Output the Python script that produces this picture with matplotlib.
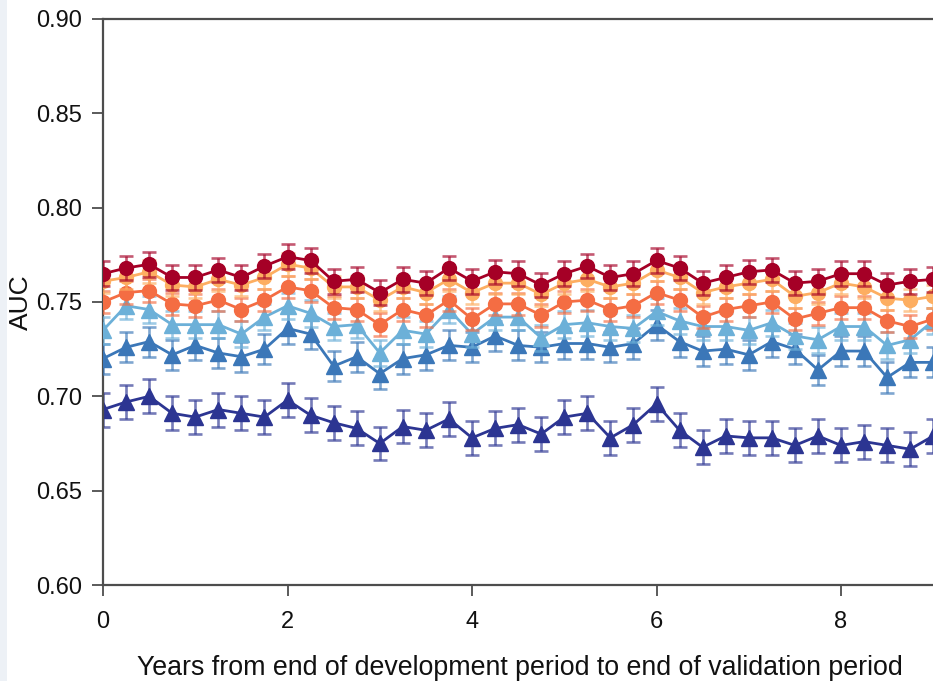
import matplotlib
matplotlib.use("Agg")
import matplotlib.pyplot as plt
from matplotlib.patches import Rectangle

plt.rcParams['font.family'] = ['Liberation Sans', 'DejaVu Sans']

years = [0, 0.25, 0.5, 0.75, 1.0, 1.25, 1.5, 1.75, 2.0, 2.25, 2.5, 2.75, 3.0,
         3.25, 3.5, 3.75, 4.0, 4.25, 4.5, 4.75, 5.0, 5.25, 5.5, 5.75, 6.0,
         6.25, 6.5, 6.75, 7.0, 7.25, 7.5, 7.75, 8.0, 8.25, 8.5, 8.75, 9.0]

auc_navy = [0.693, 0.697, 0.700, 0.691, 0.689, 0.693, 0.691, 0.689, 0.698, 0.690,
            0.686, 0.683, 0.675, 0.684, 0.682, 0.688, 0.678, 0.683, 0.685, 0.680,
            0.689, 0.691, 0.678, 0.685, 0.696, 0.682, 0.673, 0.679, 0.678, 0.678,
            0.674, 0.679, 0.674, 0.676, 0.674, 0.672, 0.679]
auc_blue = [0.720, 0.726, 0.729, 0.722, 0.727, 0.723, 0.721, 0.725, 0.736, 0.733,
            0.716, 0.721, 0.712, 0.720, 0.722, 0.727, 0.726, 0.732, 0.727, 0.726,
            0.728, 0.728, 0.726, 0.728, 0.738, 0.729, 0.724, 0.725, 0.722, 0.729,
            0.725, 0.714, 0.724, 0.724, 0.710, 0.718, 0.718]
auc_lightblue = [0.735, 0.748, 0.746, 0.738, 0.738, 0.738, 0.733, 0.742, 0.748, 0.744,
                 0.737, 0.738, 0.723, 0.735, 0.733, 0.746, 0.733, 0.742, 0.742, 0.731,
                 0.738, 0.739, 0.737, 0.736, 0.745, 0.740, 0.737, 0.737, 0.735, 0.739,
                 0.732, 0.730, 0.737, 0.737, 0.727, 0.730, 0.740]
auc_orange = [0.750, 0.755, 0.756, 0.749, 0.748, 0.751, 0.746, 0.751, 0.758, 0.756,
              0.747, 0.746, 0.738, 0.746, 0.743, 0.751, 0.741, 0.749, 0.749, 0.743,
              0.750, 0.751, 0.746, 0.748, 0.755, 0.751, 0.742, 0.746, 0.748, 0.750,
              0.741, 0.744, 0.747, 0.747, 0.740, 0.737, 0.741]
auc_lightorange = [0.761, 0.763, 0.766, 0.759, 0.758, 0.762, 0.759, 0.763, 0.770, 0.768,
                   0.758, 0.758, 0.751, 0.758, 0.755, 0.762, 0.755, 0.760, 0.760, 0.754,
                   0.760, 0.762, 0.758, 0.760, 0.767, 0.763, 0.755, 0.758, 0.760, 0.762,
                   0.753, 0.755, 0.760, 0.758, 0.752, 0.751, 0.753]
auc_red = [0.765, 0.768, 0.770, 0.763, 0.763, 0.767, 0.763, 0.769, 0.774, 0.772,
           0.761, 0.762, 0.755, 0.762, 0.760, 0.768, 0.761, 0.766, 0.765, 0.759,
           0.765, 0.769, 0.763, 0.765, 0.772, 0.768, 0.760, 0.763, 0.766, 0.767,
           0.760, 0.761, 0.765, 0.765, 0.759, 0.761, 0.762]

err_navy = 0.009
err_blue = 0.008
err_lightblue = 0.007
err_orange = 0.006
err_lightorange = 0.006
err_red = 0.0065

x_ticks = [0, 2, 4, 6, 8]
y_ticks = [0.60, 0.65, 0.70, 0.75, 0.80, 0.85, 0.90]
x_label = "Years from end of development period to end of validation period"
y_label = "AUC"

series = [
    (auc_navy, err_navy, '#2c3592', '^'),
    (auc_blue, err_blue, '#3b77b8', '^'),
    (auc_lightblue, err_lightblue, '#6cb0d8', '^'),
    (auc_orange, err_orange, '#f46d43', 'o'),
    (auc_lightorange, err_lightorange, '#fdae61', 'o'),
    (auc_red, err_red, '#a50026', 'o'),
]

fig = plt.figure(figsize=(9.33, 6.81), dpi=100)
fig.patches.append(Rectangle((0, 0), 7 / 933, 1, transform=fig.transFigure,
                             facecolor='#edf1f6', edgecolor='none', zorder=0))

ax = fig.add_axes([103 / 933, 1 - 585 / 681, 922.5 / 933, (585 - 19) / 681])

for i, (vals, err, col, mk) in enumerate(series):
    ax.errorbar(years, vals, yerr=err, fmt='none', ecolor=col, elinewidth=1.9,
                capsize=5, capthick=1.9, alpha=0.65, zorder=2 + i)
    ax.plot(years, vals, color=col, linewidth=2.0, marker=mk,
            markersize=11.5 if mk == '^' else 10, markeredgecolor=col,
            markerfacecolor=col, zorder=2.5 + i)

ax.set_xlim(0, 10)
ax.set_ylim(0.60, 0.90)
ax.set_xticks(x_ticks)
ax.set_yticks(y_ticks)
ax.set_yticklabels([f"{v:.2f}" for v in y_ticks])

for side in ['left', 'bottom', 'top', 'right']:
    ax.spines[side].set_color('#4d4d4d')
    ax.spines[side].set_linewidth(1.6)

ax.tick_params(axis='both', direction='out', length=8, width=1.3,
               color='#4d4d4d', labelsize=17, labelcolor='#111111')
ax.tick_params(axis='x', pad=11)
ax.tick_params(axis='y', pad=7)

ax.set_xlabel(x_label, fontsize=19.3, color='#111111')
ax.xaxis.set_label_coords((520 - 103) / 922.5, -0.124)
ax.set_ylabel(y_label, fontsize=19, color='#111111')
ax.yaxis.set_label_coords((33 - 103) / 922.5, 0.5)

fig.savefig("out.png", dpi=100)
